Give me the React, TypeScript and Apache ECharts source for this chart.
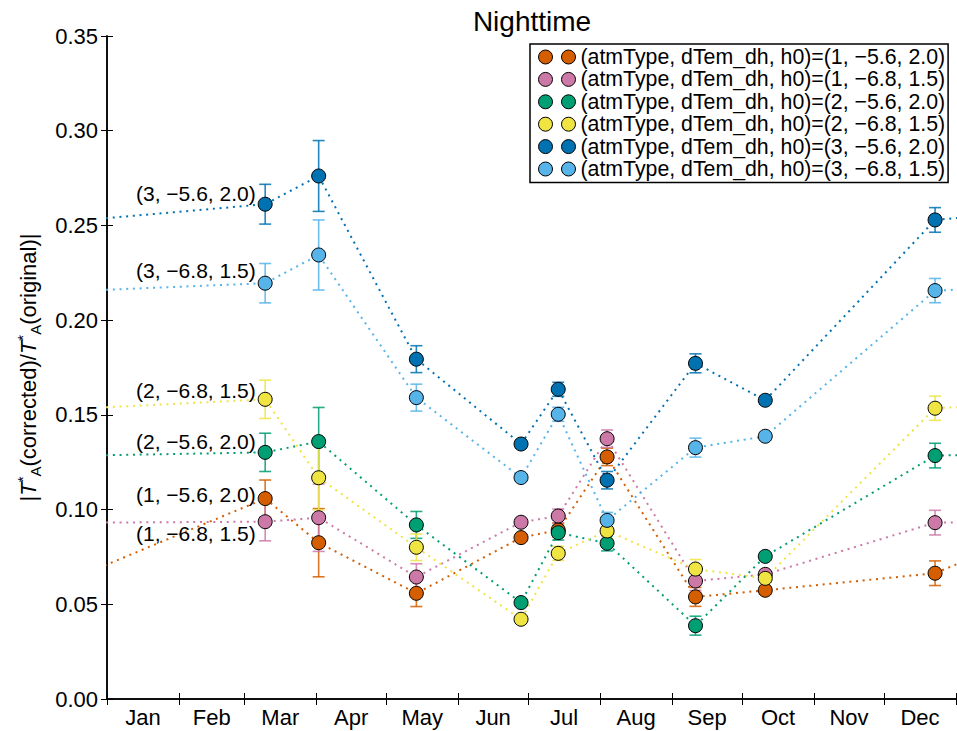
import React, { useEffect, useRef } from "react";
import * as echarts from "echarts";

// Month axis: day-of-year, ticks at month boundaries, labels mid-month
const MONTHS = ["Jan", "Feb", "Mar", "Apr", "May", "Jun", "Jul", "Aug", "Sep", "Oct", "Nov", "Dec"];
const MONTH_STARTS = [0, 31, 59, 90, 120, 151, 181, 212, 243, 273, 304, 334, 365];
const Y_TICKS = [0, 0.05, 0.1, 0.15, 0.2, 0.25, 0.3, 0.35];

// Observation dates (day of year)
const OBS_DAYS = [68, 91, 133, 178, 194, 215, 253, 283, 356];

// Series names
const NAMES = [
  "(atmType, dTem_dh, h0)=(1, \u22125.6, 2.0)",
  "(atmType, dTem_dh, h0)=(1, \u22126.8, 1.5)",
  "(atmType, dTem_dh, h0)=(2, \u22125.6, 2.0)",
  "(atmType, dTem_dh, h0)=(2, \u22126.8, 1.5)",
  "(atmType, dTem_dh, h0)=(3, \u22125.6, 2.0)",
  "(atmType, dTem_dh, h0)=(3, \u22126.8, 1.5)",
];
const TAGS = [
  "(1, \u22125.6, 2.0)",
  "(1, \u22126.8, 1.5)",
  "(2, \u22125.6, 2.0)",
  "(2, \u22126.8, 1.5)",
  "(3, \u22125.6, 2.0)",
  "(3, \u22126.8, 1.5)",
];

// Ratio values per series
const V_1_56 = [0.1058, 0.0825, 0.0558, 0.0852, 0.0892, 0.1278, 0.0539, 0.0574, 0.0664];
const V_1_68 = [0.0936, 0.0957, 0.0644, 0.0933, 0.0966, 0.1374, 0.0623, 0.0658, 0.0931];
const V_2_56 = [0.1302, 0.1359, 0.0919, 0.0509, 0.0878, 0.0822, 0.0387, 0.0753, 0.1285];
const V_2_68 = [0.1582, 0.1168, 0.0801, 0.0421, 0.0769, 0.0887, 0.0686, 0.0637, 0.1535];
const V_3_56 = [0.2612, 0.2761, 0.1794, 0.1346, 0.1635, 0.1155, 0.1772, 0.1577, 0.2529];
const V_3_68 = [0.2195, 0.2344, 0.1591, 0.1169, 0.1503, 0.0943, 0.1327, 0.1387, 0.2156];

// Uncertainties per series
const E_1_56 = [0.0098, 0.018, 0.007, 0.002, 0.0037, 0.0046, 0.005, 0.002, 0.0065];
const E_1_68 = [0.0101, 0.0178, 0.007, 0.002, 0.0037, 0.0046, 0.005, 0.002, 0.0065];
const E_2_56 = [0.0101, 0.018, 0.0071, 0.002, 0.0039, 0.004, 0.005, 0.002, 0.0065];
const E_2_68 = [0.0101, 0.017, 0.007, 0.002, 0.0037, 0.004, 0.005, 0.002, 0.0064];
const E_3_56 = [0.0105, 0.0187, 0.0071, 0.002, 0.0037, 0.0046, 0.005, 0.002, 0.0065];
const E_3_68 = [0.0104, 0.0185, 0.0071, 0.002, 0.0037, 0.0042, 0.005, 0.002, 0.0064];

const VALUES = [V_1_56, V_1_68, V_2_56, V_2_68, V_3_56, V_3_68];
const ERRORS = [E_1_56, E_1_68, E_2_56, E_2_68, E_3_56, E_3_68];

// Styling
const COLORS = ["#D55E00", "#CC79A7", "#009E73", "#F0E442", "#0072B2", "#56B4E9"];
const TAG_DY = [-4, 12, -11, -9, -11, -13];
const FONT = "'Liberation Sans', Arial, Helvetica, sans-serif";

const LEGEND_ICON =
  "path://M0,7A7,7,0,1,1,14,7A7,7,0,1,1,0,7ZM23,7A7,7,0,1,1,37,7A7,7,0,1,1,23,7Z";

function buildOption() {
  const mids = MONTHS.map((_, i) => (MONTH_STARTS[i] + MONTH_STARTS[i + 1]) / 2);
  const series: any[] = [];

  VALUES.forEach((vals, s) => {
    const color = COLORS[s];
    const errs = ERRORS[s];
    const n = vals.length;

    // error bars
    series.push({
      type: "custom",
      name: "err" + s,
      z: 2,
      renderItem: (params: any, api: any) => {
        const x = api.value(0);
        const y = api.value(1);
        const e = api.value(2);
        const top = api.coord([x, y + e]);
        const bot = api.coord([x, y - e]);
        const hw = 6;
        const st = { stroke: color, lineWidth: 1.6, opacity: 0.85 };
        return {
          type: "group",
          children: [
            { type: "line", shape: { x1: top[0], y1: top[1], x2: bot[0], y2: bot[1] }, style: st },
            { type: "line", shape: { x1: top[0] - hw, y1: top[1], x2: top[0] + hw, y2: top[1] }, style: st },
            { type: "line", shape: { x1: bot[0] - hw, y1: bot[1], x2: bot[0] + hw, y2: bot[1] }, style: st },
          ],
        };
      },
      encode: { x: 0, y: 1 },
      data: OBS_DAYS.map((d, i) => [d, vals[i], errs[i]]),
      silent: true,
    });

    // yearly cycle: last observation wraps to the start, first wraps to the end
    const data: any[] = [];
    data.push({ value: [OBS_DAYS[n - 1] - 365, vals[n - 1]], symbol: "none" });
    OBS_DAYS.forEach((d, i) => {
      const item: any = { value: [d, vals[i]] };
      if (i === 0) {
        item.label = {
          show: true,
          position: "left",
          distance: 2,
          offset: [0, TAG_DY[s]],
          formatter: TAGS[s],
          color: "#000",
          fontSize: 21,
          fontFamily: FONT,
        };
      }
      data.push(item);
    });
    data.push({ value: [OBS_DAYS[0] + 365, vals[0]], symbol: "none" });

    series.push({
      type: "line",
      name: NAMES[s],
      z: 2,
      clip: true,
      symbol: "circle",
      symbolSize: 14,
      showSymbol: true,
      itemStyle: { color, borderColor: "#000", borderWidth: 1 },
      lineStyle: { color, width: 2, type: [2, 4.7] },
      emphasis: { disabled: true },
      data,
    });
  });

  const axisLine = { show: true, lineStyle: { color: "#000", width: 1.5 } };

  return {
    animation: false,
    backgroundColor: "#fff",
    title: {
      text: "Nighttime",
      left: 527,
      top: 2,
      textAlign: "center",
      textStyle: { fontFamily: FONT, fontSize: 28, fontWeight: "normal", color: "#000" },
    },
    legend: {
      data: NAMES,
      orient: "vertical",
      left: 530,
      top: 44,
      icon: LEGEND_ICON,
      itemWidth: 37,
      itemHeight: 14,
      itemGap: 1.4,
      itemTextGap: 8,
      padding: [2.5, 3, 3, 8],
      borderColor: "#000",
      borderWidth: 1.5,
      backgroundColor: "#fff",
      selectedMode: false,
      itemStyle: { borderColor: "#000", borderWidth: 1 },
      textStyle: { fontFamily: FONT, fontSize: 21.3, color: "#000", lineHeight: 20 },
    },
    grid: { left: 107, right: 1, top: 36, bottom: 32, containLabel: false, outerBoundsMode: "none" },
    xAxis: [
      {
        type: "value",
        min: 0,
        max: 365,
        position: "bottom",
        axisLine,
        splitLine: { show: false },
        axisTick: {
          show: true,
          inside: true,
          length: 6,
          customValues: MONTH_STARTS,
          lineStyle: { color: "#000", width: 1 },
        },
        axisLabel: {
          show: true,
          customValues: mids,
          margin: 7,
          fontFamily: FONT,
          fontSize: 22,
          color: "#000",
          formatter: (v: number) => {
            let best = 0;
            mids.forEach((m, i) => {
              if (Math.abs(m - v) < Math.abs(mids[best] - v)) best = i;
            });
            return MONTHS[best];
          },
        },
      },
      {
        type: "value",
        min: 0,
        max: 365,
        position: "top",
        axisLine,
        splitLine: { show: false },
        axisTick: {
          show: true,
          inside: true,
          length: 6,
          customValues: MONTH_STARTS,
          lineStyle: { color: "#000", width: 1 },
        },
        axisLabel: { show: false },
      },
    ],
    yAxis: [
      {
        type: "value",
        min: 0,
        max: 0.35,
        interval: 0.05,
        position: "left",
        axisLine,
        splitLine: { show: false },
        axisTick: { show: true, inside: true, length: 6, lineStyle: { color: "#000", width: 1 } },
        axisLabel: {
          margin: 9,
          fontFamily: FONT,
          fontSize: 22,
          color: "#000",
          formatter: (v: number) => v.toFixed(2),
          customValues: Y_TICKS,
        },
        name:
          "|{i|T}{s|*}{b|A}(corrected)/{i|T}{s|*}{b|A}(original)|",
        nameLocation: "middle",
        nameGap: 64,
        nameRotate: 90,
        nameTextStyle: {
          fontFamily: FONT,
          fontSize: 22,
          color: "#000",
          lineHeight: 30,
          rich: {
            i: { fontFamily: FONT, fontSize: 22, fontStyle: "italic", color: "#000", lineHeight: 30 },
            s: { fontFamily: FONT, fontSize: 15, color: "#000", verticalAlign: "top", lineHeight: 30, padding: [2, 0, 0, 0] },
            b: { fontFamily: FONT, fontSize: 15, color: "#000", verticalAlign: "bottom", lineHeight: 30 },
          },
        },
      },
      {
        type: "value",
        min: 0,
        max: 0.35,
        interval: 0.05,
        position: "right",
        axisLine,
        splitLine: { show: false },
        axisTick: { show: true, inside: true, length: 6, lineStyle: { color: "#000", width: 1 } },
        axisLabel: { show: false },
      },
    ],
    series,
  };
}

export default function App() {
  const ref = useRef<HTMLDivElement>(null);
  useEffect(() => {
    if (!ref.current) return;
    const chart = echarts.init(ref.current, null, { renderer: "svg" });
    chart.setOption(buildOption() as any);
    return () => chart.dispose();
  }, []);
  return (
    <div
      ref={ref}
      style={{ width: 957, height: 731, position: "absolute", left: 0, top: 0 }}
    />
  );
}
